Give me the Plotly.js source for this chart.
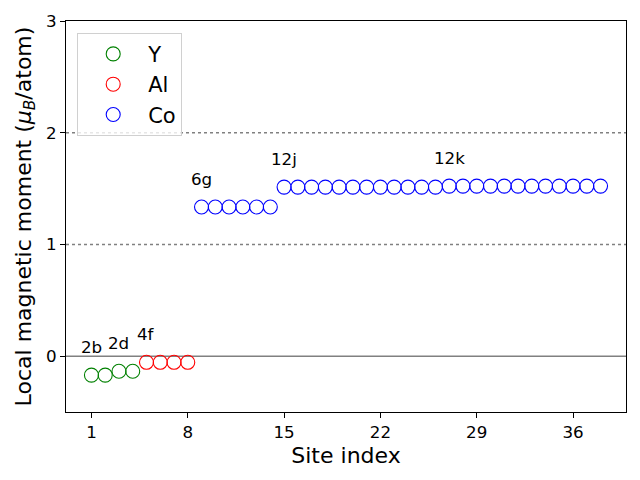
<!DOCTYPE html>
<html><head><meta charset="utf-8">
<script src="https://cdn.plot.ly/plotly-3.0.1.min.js"></script>
<style>body{margin:0;}#chart{width:640px;height:480px;}</style>
</head><body><div id="chart"></div>
<script>
const yIdx = [1, 2, 3, 4];
const yVals = [-0.17, -0.17, -0.135, -0.135];
const alIdx = [5, 6, 7, 8];
const alVals = [-0.055, -0.055, -0.055, -0.055];
const coIdx = [9,10,11,12,13,14,15,16,17,18,19,20,21,22,23,24,25,26,27,28,29,30,31,32,33,34,35,36,37,38];
const coVals = [1.335,1.335,1.335,1.335,1.335,1.335,
  1.513,1.513,1.513,1.513,1.513,1.513,1.513,1.513,1.513,1.513,1.513,1.513,
  1.522,1.522,1.522,1.522,1.522,1.522,1.522,1.522,1.522,1.522,1.522,1.522];
const siteLabels = ["2b", "2d", "4f", "6g", "12j", "12k"];
const siteLabelX = [1, 3, 5, 9, 15, 27];
const siteLabelY = [0.08, 0.115, 0.195, 1.585, 1.763, 1.772];
const tickVals = [1, 8, 15, 22, 29, 36];

const font = "DejaVu Sans, sans-serif";
function tr(x, y, name, color) {
  return {x: x, y: y, name: name, type: 'scatter', mode: 'markers',
    marker: {symbol: 'circle-open', size: 14, color: color, line: {width: 1.1, color: color}}};
}
const data = [tr(yIdx, yVals, 'Y', 'green'), tr(alIdx, alVals, 'Al', 'red'), tr(coIdx, coVals, 'Co', 'blue')];

const shapes = [
  {type: 'line', xref: 'paper', x0: 0, x1: 1, yref: 'y', y0: 0, y1: 0, line: {color: 'grey', width: 1.5}, layer: 'below'},
  {type: 'line', xref: 'paper', x0: 0, x1: 1, yref: 'y', y0: 1, y1: 1, line: {color: 'grey', width: 1.5, dash: 'dot'}, layer: 'below'},
  {type: 'line', xref: 'paper', x0: 0, x1: 1, yref: 'y', y0: 2, y1: 2, line: {color: 'grey', width: 1.5, dash: 'dot'}, layer: 'below'}
];
const annotations = siteLabels.map((t, i) => ({
  x: siteLabelX[i], y: siteLabelY[i], xref: 'x', yref: 'y', text: t, showarrow: false,
  font: {family: font, size: 16.7, color: 'black'}, xanchor: 'center', yanchor: 'middle'
}));

const layout = {
  width: 640, height: 480,
  margin: {l: 66, r: 14, t: 21, b: 68},
  paper_bgcolor: 'white', plot_bgcolor: 'white',
  font: {family: font, color: 'black'},
  showlegend: true,
  legend: {x: 0.02, y: 0.97, xanchor: 'left', yanchor: 'top', bgcolor: 'rgba(255,255,255,0.8)',
    bordercolor: '#d0d0d0', borderwidth: 1, font: {family: font, size: 21}, itemwidth: 60,
    tracegroupgap: 0},
  xaxis: {range: [-0.85, 39.85], tickvals: tickVals, ticktext: tickVals.map(String),
    ticks: 'outside', ticklen: 5, tickcolor: 'black', showgrid: false, zeroline: false,
    showline: true, mirror: true, linecolor: 'black', linewidth: 1,
    tickfont: {family: font, size: 16.7},
    title: {text: 'Site index', font: {family: font, size: 22}, standoff: 6}},
  yaxis: {range: [-0.5, 3], tickvals: [0, 1, 2, 3],
    ticks: 'outside', ticklen: 5, tickcolor: 'black', showgrid: false, zeroline: false,
    showline: true, mirror: true, linecolor: 'black', linewidth: 1,
    tickfont: {family: font, size: 16.7},
    title: {text: 'Local magnetic moment (<i>μ<sub>B</sub></i>/atom)', font: {family: font, size: 22}, standoff: 8}},
  shapes: shapes, annotations: annotations
};
Plotly.newPlot('chart', data, layout, {displayModeBar: false});
</script></body></html>
